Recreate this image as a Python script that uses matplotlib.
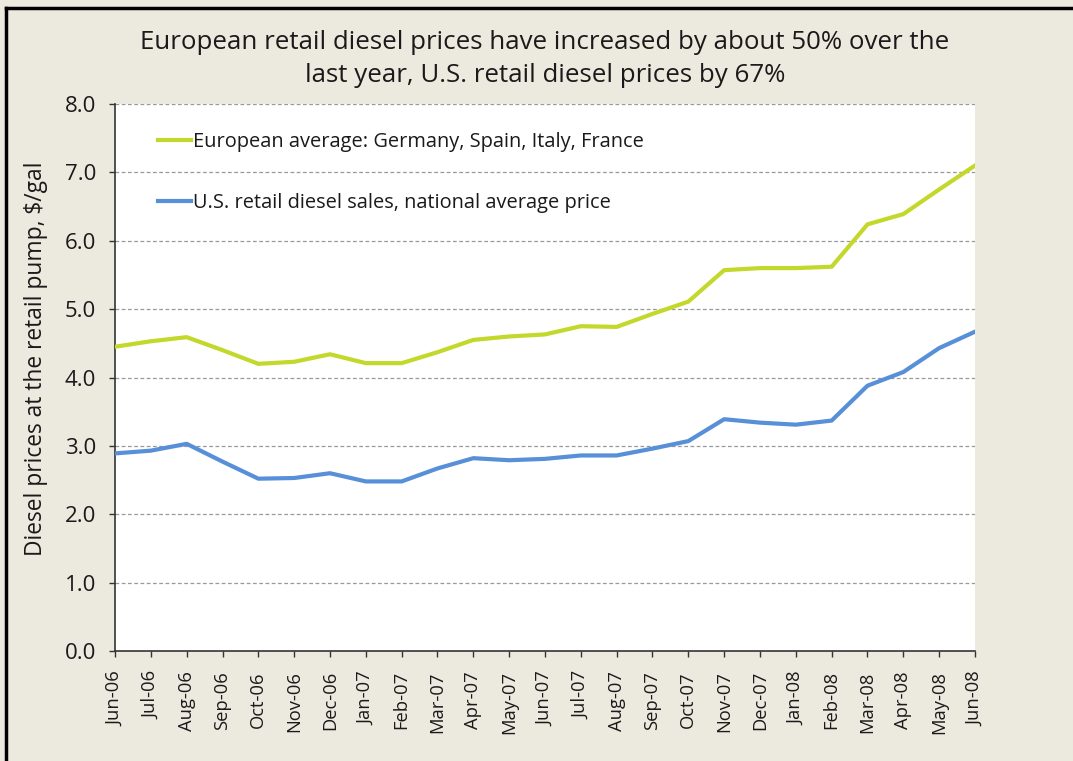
import matplotlib
matplotlib.use("Agg")
import matplotlib.pyplot as plt
from matplotlib.lines import Line2D

plt.rcParams['font.family'] = ['Open Sans', 'DejaVu Sans']

months = ["Jun-06", "Jul-06", "Aug-06", "Sep-06", "Oct-06", "Nov-06", "Dec-06",
          "Jan-07", "Feb-07", "Mar-07", "Apr-07", "May-07", "Jun-07", "Jul-07",
          "Aug-07", "Sep-07", "Oct-07", "Nov-07", "Dec-07", "Jan-08", "Feb-08",
          "Mar-08", "Apr-08", "May-08", "Jun-08"]
europe = [4.45, 4.53, 4.59, 4.40, 4.20, 4.23, 4.34, 4.21, 4.21, 4.37, 4.55, 4.60,
          4.63, 4.75, 4.74, 4.93, 5.11, 5.57, 5.60, 5.60, 5.62, 6.24, 6.39, 6.75, 7.10]
us = [2.89, 2.93, 3.03, 2.77, 2.52, 2.53, 2.60, 2.48, 2.48, 2.67, 2.82, 2.79,
      2.81, 2.86, 2.86, 2.96, 3.07, 3.39, 3.34, 3.31, 3.37, 3.88, 4.08, 4.43, 4.67]
yticks = [0, 1, 2, 3, 4, 5, 6, 7, 8]

BG = "#ECE9DF"
GREEN = "#C3D82B"
BLUE = "#5790D8"
TXT = "#1a1a1a"

fig = plt.figure(figsize=(10.73, 7.61), dpi=100, facecolor=BG)
ax = fig.add_axes([115/1073, 1-651/761, 860/1073, 547/761])
ax.set_facecolor("white")

x = list(range(len(months)))
ax.plot(x, europe, color=GREEN, lw=3.0, solid_joinstyle='round',
        label="European average: Germany, Spain, Italy, France", zorder=3)
ax.plot(x, us, color=BLUE, lw=3.0, solid_joinstyle='round',
        label="U.S. retail diesel sales, national average price", zorder=3)

ax.set_xlim(0, len(months)-1)
ax.set_ylim(0, 8)
ax.set_yticks(yticks)
ax.set_yticklabels([f"{v:.1f}" for v in yticks], fontsize=16, color=TXT)
ax.set_xticks(x)
ax.set_xticklabels(months, rotation=90, fontsize=13.2, color=TXT)
ax.tick_params(axis='both', direction='out', length=4.5, width=1, color="#333333")
ax.tick_params(axis='y', pad=9)
ax.tick_params(axis='x', pad=10)

for v in yticks[1:]:
    ax.axhline(v, color="#999999", lw=0.9, ls=(0, (3, 2)), zorder=1)

for s in ['top', 'right']:
    ax.spines[s].set_visible(False)
for s in ['left', 'bottom']:
    ax.spines[s].set_color("#333333")
    ax.spines[s].set_linewidth(1.2)

ax.set_ylabel("Diesel prices at the retail pump, $/gal", fontsize=16.4, color=TXT)
ax.yaxis.set_label_coords((48-115)/860, (651-359)/547)

leg = ax.legend(loc='upper left', bbox_to_anchor=(0.029, 0.982), frameon=False,
                fontsize=14.4, handlelength=1.65, handletextpad=0.1, labelspacing=2.05)
for t in leg.get_texts():
    t.set_color(TXT)

fig.text(545/1073, 1-59/761,
         "European retail diesel prices have increased by about 50% over the\nlast year, U.S. retail diesel prices by 67%",
         ha='center', va='center', fontsize=18.6, color=TXT, linespacing=1.39)

# outer frame (left and top edges)
fig.add_artist(Line2D([6/1073, 6/1073], [0, 1-8/761], transform=fig.transFigure, color='black', lw=2.5))
fig.add_artist(Line2D([6/1073, 1], [1-8/761, 1-8/761], transform=fig.transFigure, color='black', lw=2.5))

fig.savefig("out.png", dpi=100, facecolor=BG)
